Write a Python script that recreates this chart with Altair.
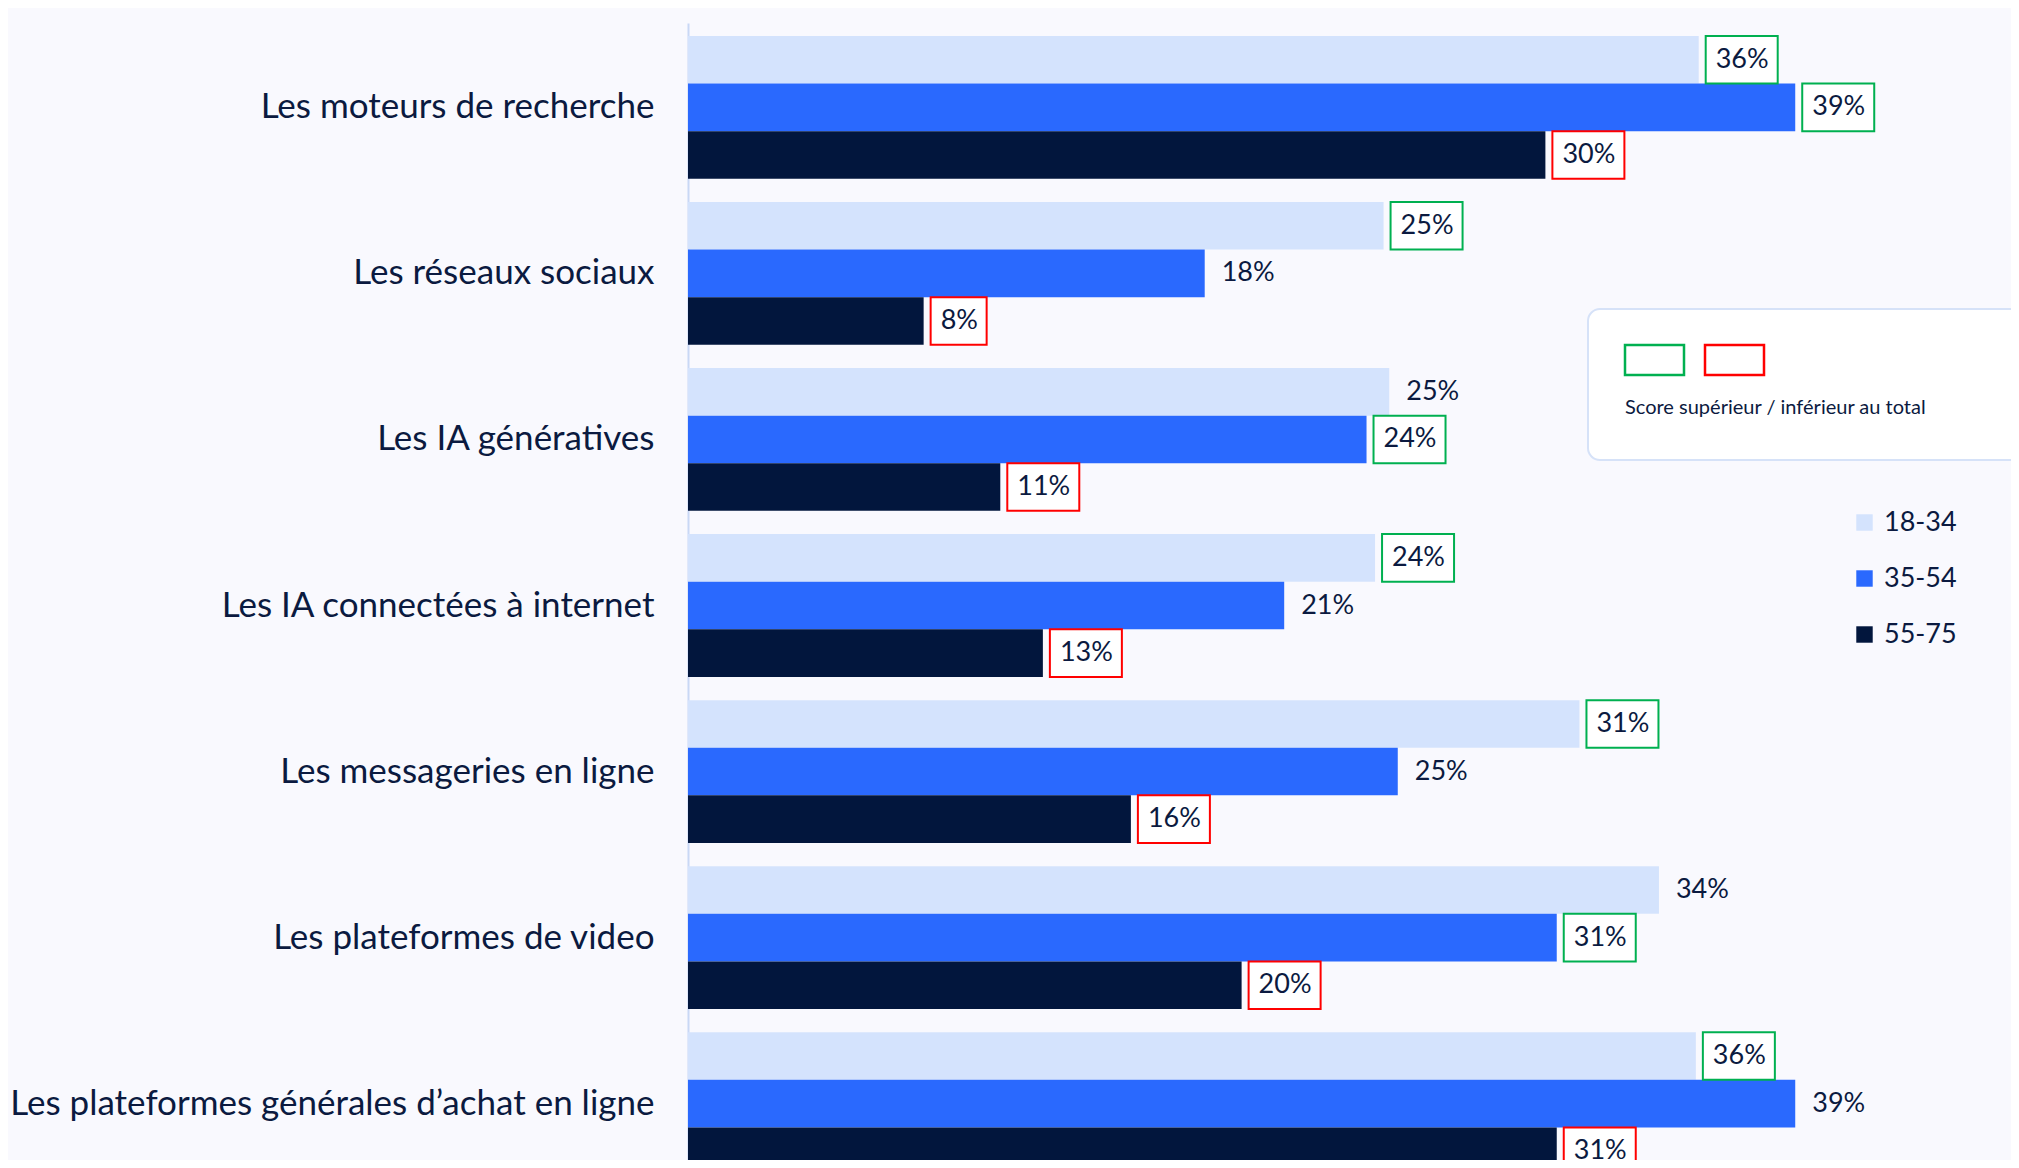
import altair as alt
import pandas as pd

categories = [
    "Les moteurs de recherche",
    "Les réseaux sociaux\u2007",
    "Les IA génératives",
    "Les IA connectées à internet",
    "Les messageries en ligne",
    "Les plateformes de video",
    "Les plateformes générales d\u2019achat en ligne",
]
groups = ["18-34", "35-54", "55-75"]
# bar lengths (labels are the rounded figures)
v_18_34 = [35.6, 24.5, 24.7, 24.2, 31.4, 34.2, 35.5]
v_35_54 = [39.0, 18.2, 23.9, 21.0, 25.0, 30.6, 39.0]
v_55_75 = [30.2, 8.3, 11.0, 12.5, 15.6, 19.5, 30.6]
l_18_34 = ["36%", "25%", "25%", "24%", "31%", "34%", "36%"]
l_35_54 = ["39%", "18%", "24%", "21%", "25%", "31%", "39%"]
l_55_75 = ["30%", "8%", "11%", "13%", "16%", "20%", "31%"]
# score vs total: "up" = higher (green box), "down" = lower (red box), "" = none
f_18_34 = ["up", "up", "", "up", "up", "", "up"]
f_35_54 = ["up", "", "up", "", "", "up", ""]
f_55_75 = ["down", "down", "down", "down", "down", "down", "down"]

colors = ["#D4E3FD", "#2A69FE", "#02163D"]
NAVY = "#0B1A40"
BG = "#F9F9FE"
FONT = "Lato"

rows = []
for g, vals, labs, flags in [
    ("18-34", v_18_34, l_18_34, f_18_34),
    ("35-54", v_35_54, l_35_54, f_35_54),
    ("55-75", v_55_75, l_55_75, f_55_75),
]:
    for c, v, lab, f in zip(categories, vals, labs, flags):
        rows.append({"cat": c, "grp": g, "val": v, "label": lab, "flag": f})
df = pd.DataFrame(rows)

W, H = 1323, 1137
xscale = alt.Scale(domain=[0, 46.6], nice=False, zero=True)
yscale = alt.Scale(domain=categories, range=[0, 1165], paddingInner=0.14, paddingOuter=0.078)
yoff = alt.YOffset("grp:N", sort=groups, scale=alt.Scale(domain=groups, paddingInner=0, paddingOuter=0))

y_enc = alt.Y(
    "cat:N",
    sort=categories,
    scale=yscale,
    axis=alt.Axis(
        title=None,
        ticks=False,
        grid=False,
        domainColor="#C9D8F5",
        domainWidth=2,
        labelFont=FONT,
        labelFontSize=35,
        labelColor=NAVY,
        labelPadding=34,
        labelLimit=700,
    ),
)

base = alt.Chart(df)

bars = base.mark_bar(clip=True).encode(
    x=alt.X("val:Q", scale=xscale, axis=None),
    y=y_enc,
    yOffset=yoff,
    color=alt.Color(
        "grp:N",
        sort=groups,
        scale=alt.Scale(domain=groups, range=colors),
        legend=alt.Legend(
            orient="none",
            legendX=1163,
            legendY=486,
            title=None,
            symbolType="square",
            symbolSize=270,
            symbolStrokeWidth=0,
            labelFont=FONT,
            labelFontSize=27,
            labelColor=NAVY,
            labelOffset=6,
            rowPadding=28,
            padding=0,
        ),
    ),
)

stroke_enc = alt.Stroke(
    "flag:N",
    scale=alt.Scale(domain=["up", "down"], range=["#00B050", "#FF0000"]),
    legend=None,
)

box3 = base.transform_filter(
    "datum.flag != '' && length(datum.label) >= 3"
).mark_bar(clip=True, xOffset=7, x2Offset=79, fill="white", strokeWidth=2).encode(
    x=alt.X("val:Q", scale=xscale, axis=None),
    x2="val:Q",
    y=y_enc,
    yOffset=yoff,
    stroke=stroke_enc,
)

box2 = base.transform_filter(
    "datum.flag != '' && length(datum.label) < 3"
).mark_bar(clip=True, xOffset=7, x2Offset=63, fill="white", strokeWidth=2).encode(
    x=alt.X("val:Q", scale=xscale, axis=None),
    x2="val:Q",
    y=y_enc,
    yOffset=yoff,
    stroke=stroke_enc,
)

texts = base.mark_text(
    clip=True, align="left", baseline="middle", dx=17, font=FONT, fontSize=27, color=NAVY
).encode(
    x=alt.X("val:Q", scale=xscale, axis=None),
    y=y_enc,
    yOffset=yoff,
    text="label:N",
)

one = pd.DataFrame({"k": [0]})
panel = alt.Chart(one).mark_rect(
    clip=True, fill="white", stroke="#D6E2F8", strokeWidth=2, cornerRadius=12
).encode(x=alt.value(900), x2=alt.value(1400), y=alt.value(286), y2=alt.value(437))

green_box = alt.Chart(one).mark_rect(fill="white", stroke="#00B050", strokeWidth=2.5).encode(
    x=alt.value(937), x2=alt.value(996), y=alt.value(322), y2=alt.value(352)
)
red_box = alt.Chart(one).mark_rect(fill="white", stroke="#FF0000", strokeWidth=2.5).encode(
    x=alt.value(1017), x2=alt.value(1076), y=alt.value(322), y2=alt.value(352)
)
panel_text = alt.Chart(pd.DataFrame({"t": ["Score supérieur / inférieur au total"]})).mark_text(
    align="left", baseline="middle", font=FONT, fontSize=20, color=NAVY
).encode(x=alt.value(937), y=alt.value(385), text="t:N")

chart = (
    alt.layer(bars, box3, box2, texts, panel, green_box, red_box, panel_text)
    .properties(
        width=W,
        height=H,
        padding={"left": 680, "top": 15, "right": 0, "bottom": 0},
        autosize=alt.AutoSizeParams(type="none"),
        background=BG,
    )
    .configure_view(stroke=None)
)

chart.save("out.html", embed_options={"renderer": "svg", "actions": False})
